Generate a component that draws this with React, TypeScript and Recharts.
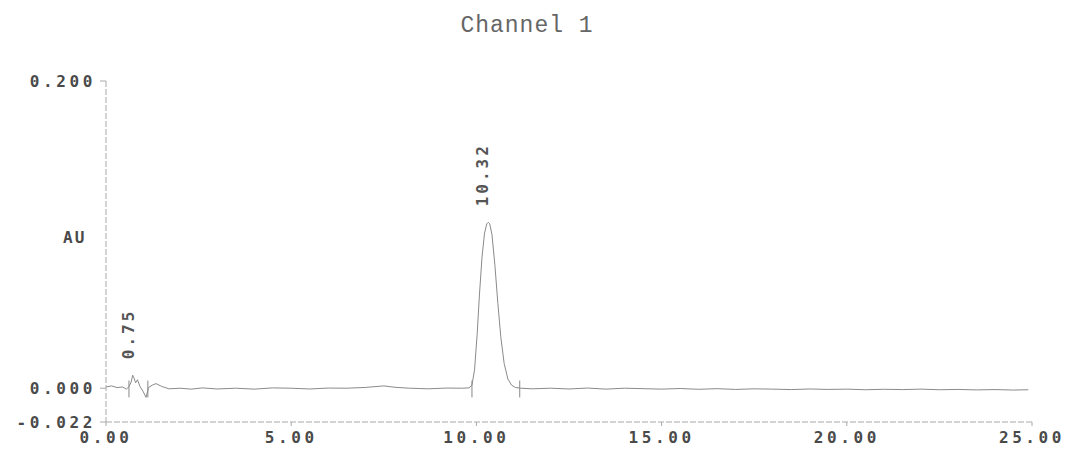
import { LineChart, Line, XAxis, YAxis, ReferenceDot, ReferenceLine } from "recharts";

// retention time (min)
const times = [
  0.0, 0.15, 0.3, 0.45, 0.55, 0.62, 0.68, 0.72, 0.75, 0.8, 0.85, 0.92, 1.0, 1.08, 1.15, 1.25, 1.35, 1.5, 1.7,
  2.0, 2.3, 2.6, 3.0, 3.5, 4.0, 4.5, 5.0, 5.5, 6.0, 6.5, 7.0, 7.5, 7.8, 8.2, 8.7, 9.2, 9.6, 9.8,
  9.88, 9.95, 10.02, 10.08, 10.15, 10.22, 10.28, 10.32, 10.36, 10.42, 10.5, 10.58, 10.66, 10.75, 10.85, 10.95,
  11.05, 11.2, 11.5, 12.0, 12.5, 13.0, 13.5, 14.0, 14.5, 15.0, 15.5, 16.0, 16.5, 17.0, 17.5, 18.0, 18.5,
  19.0, 19.5, 20.0, 20.5, 21.0, 21.5, 22.0, 22.5, 23.0, 23.5, 24.0, 24.5, 24.9,
];

// absorbance (AU)
const au = [
  0.0008, 0.0015, 0.0004, 0.0008, -0.0006, 0.001, 0.004, 0.0085, 0.007, 0.0035, 0.0055, 0.001, -0.002, -0.006, 0.0005, 0.002, 0.003, 0.0012, -0.0004,
  0.0, -0.0006, 0.0002, -0.0005, 0.0, -0.0006, 0.0002, 0.0, -0.0005, 0.0001, 0.0, 0.0005, 0.0015, 0.0006, 0.0, -0.0004, 0.0001, 0.0, 0.0002,
  0.002, 0.012, 0.035, 0.06, 0.085, 0.101, 0.107, 0.108, 0.107, 0.1, 0.08, 0.055, 0.033, 0.016, 0.006, 0.002,
  0.0005, 0.0, -0.0004, 0.0, -0.0005, 0.0001, -0.0006, 0.0, -0.0003, -0.0006, -0.0002, -0.0007, -0.0003, -0.0008, -0.0004, -0.0006, -0.0009,
  -0.0005, -0.0008, -0.0006, -0.001, -0.0007, -0.0009, -0.0006, -0.001, -0.0008, -0.0011, -0.0009, -0.0012, -0.001,
];

const xTicks = [0, 5, 10, 15, 20, 25];
const yTicks = [-0.022, 0, 0.2];

const peakTimes = [0.75, 10.32];
const peakHeights = [0.0085, 0.108];
const peakLabels = ["0.75", "10.32"];
const peakBounds = [0.62, 1.13, 9.88, 11.17];

const data = times.map((t, i) => ({ t, au: au[i] }));

const tickFont = {
  fontFamily: "DejaVu Sans Mono",
  fontWeight: 700,
  fontSize: 16,
  letterSpacing: 3.6,
  fill: "#4a4a4a",
};

const App = () => {
  return (
    <div style={{ position: "absolute", left: 0, top: 0, width: 1070, height: 452, background: "#fff" }}>
      <div
        style={{
          position: "absolute",
          top: 13,
          left: 0,
          width: 1054,
          textAlign: "center",
          fontFamily: "Liberation Mono",
          fontSize: 23,
          letterSpacing: 1,
          color: "#666",
        }}
      >
        Channel 1
      </div>
      <div
        style={{
          position: "absolute",
          top: 228,
          left: 63,
          fontFamily: "DejaVu Sans Mono",
          fontWeight: 700,
          fontSize: 16,
          letterSpacing: 2,
          color: "#4a4a4a",
        }}
      >
        AU
      </div>
      <LineChart width={1070} height={452} data={data} margin={{ top: 81, right: 38, bottom: 0, left: 6 }}>
        <XAxis
          dataKey="t"
          type="number"
          domain={[0, 25]}
          ticks={xTicks}
          tickFormatter={(v: number) => v.toFixed(2)}
          height={30}
          tickSize={4}
          tickMargin={6}
          stroke="#aaa"
          strokeDasharray="6 2"
          tick={tickFont}
        />
        <YAxis
          type="number"
          domain={[-0.022, 0.2]}
          ticks={yTicks}
          tickFormatter={(v: number) => v.toFixed(3)}
          width={100}
          tickSize={6}
          tickMargin={4}
          stroke="#aaa"
          strokeDasharray="6 2"
          tick={tickFont}
        />
        {peakBounds.map((b) => (
          <ReferenceLine
            key={b}
            segment={[
              { x: b, y: -0.006 },
              { x: b, y: 0.005 },
            ]}
            stroke="#888"
          />
        ))}
        <Line
          dataKey="au"
          type="linear"
          dot={false}
          stroke="#8a8a8a"
          strokeWidth={1}
          isAnimationActive={false}
        />
        {peakTimes.map((t, i) => (
          <ReferenceDot
            key={t}
            x={t}
            y={peakHeights[i]}
            r={0}
            shape={(p: any) => (
              <text
                x={p.cx}
                y={p.cy - 16}
                transform={`rotate(-90 ${p.cx} ${p.cy - 16})`}
                textAnchor="start"
                fontFamily="DejaVu Sans Mono"
                fontWeight={700}
                fontSize={16}
                letterSpacing={3}
                fill="#555"
              >
                {peakLabels[i]}
              </text>
            )}
          />
        ))}
      </LineChart>
    </div>
  );
};

export default App;
